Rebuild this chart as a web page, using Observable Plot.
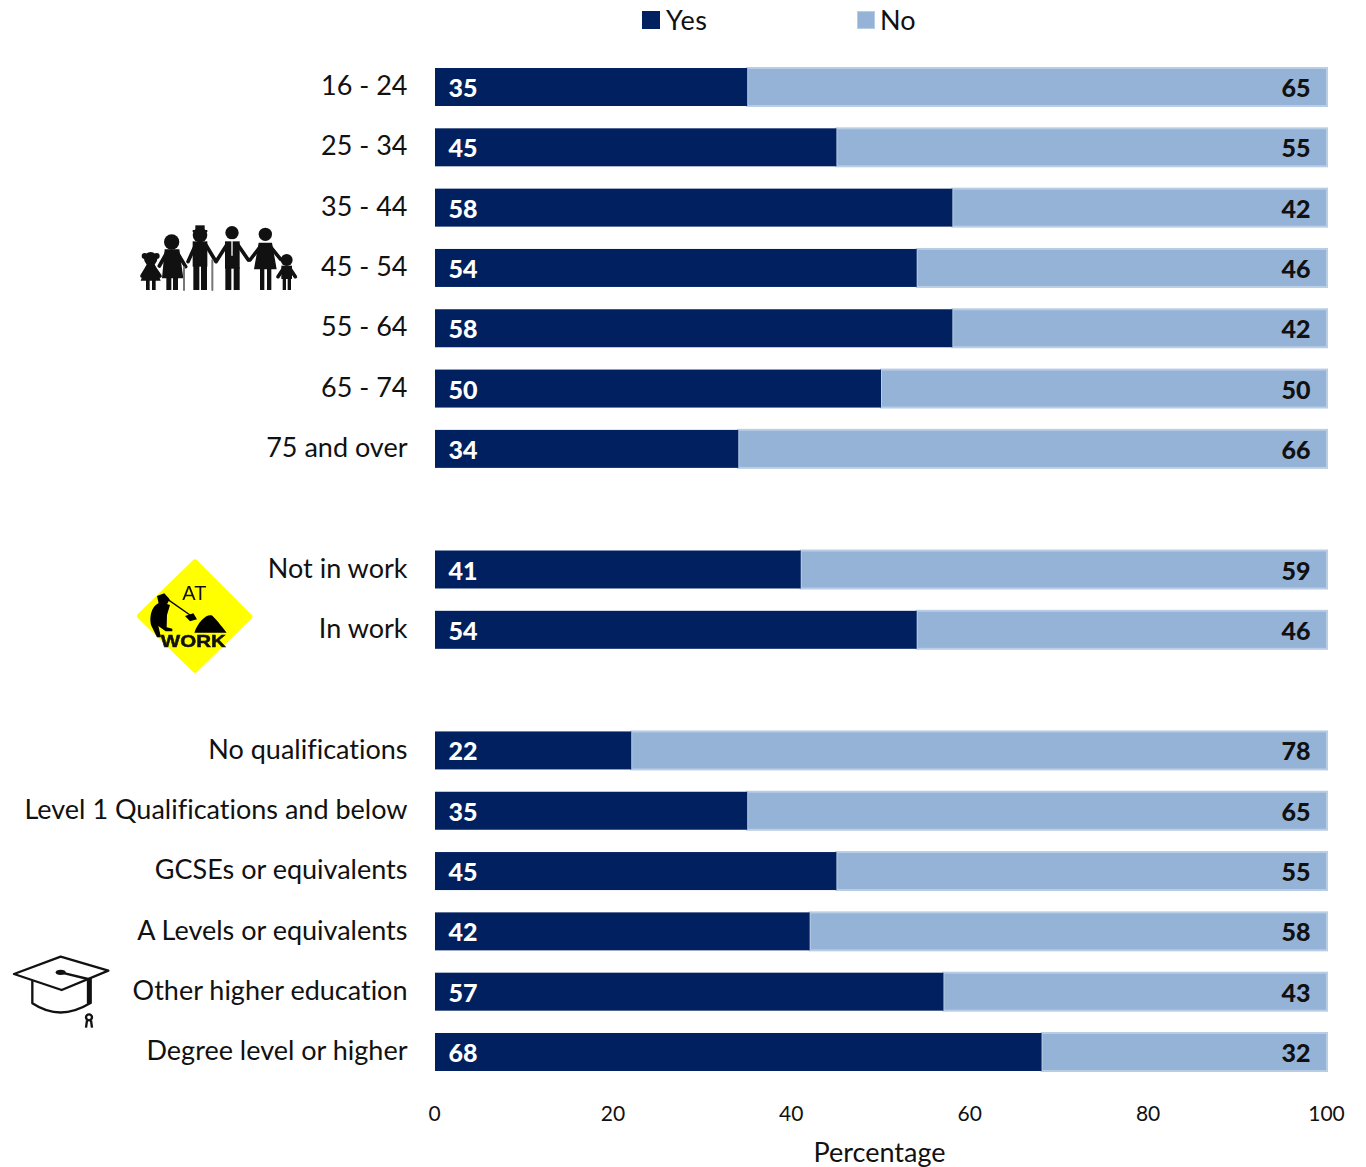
<!DOCTYPE html>
<html>
<head>
<meta charset="utf-8">
<script src="https://cdn.jsdelivr.net/npm/d3@7"></script>
<script src="https://cdn.jsdelivr.net/npm/@observablehq/plot@0.6"></script>
<style>
  html, body { margin: 0; padding: 0; background: #fff; }
  body { position: relative; width: 1366px; height: 1167px; overflow: hidden; font-family: Lato, "Open Sans", sans-serif; color: #111; font-variant-ligatures: none; }
  #legend { position: relative; height: 40px; font-size: 27px; }
  #legend span { position: absolute; top: 3px; line-height: 34px; }
  #legend i { position: absolute; top: 11px; width: 18px; height: 18px; box-sizing: border-box; }
  #chart svg text { font-variant-ligatures: none; }
  .icon { position: absolute; display: block; }
</style>
</head>
<body>
<div id="legend">
  <i style="left:642px;background:#002060"></i><span style="left:666px;letter-spacing:.6px">Yes</span>
  <i style="left:857px;background:#95b3d7;border:1px solid #b9cde5"></i><span style="left:880px">No</span>
</div>
<div id="chart"></div>

<!-- Family group beside the age bands -->
<svg class="icon" style="left:120px;top:180px;filter:blur(.7px)" width="200" height="120" viewBox="0 0 600 360">
  <g fill="#111" stroke="#111" stroke-linecap="round">
    <g stroke-width="0">
      <circle cx="92" cy="236" r="20"/><circle cx="74" cy="228" r="9"/><circle cx="110" cy="228" r="9"/>
      <path d="M80 252h24l18 50h-60z"/><rect x="78" y="298" width="11" height="32"/><rect x="96" y="298" width="11" height="32"/>
      <circle cx="155" cy="186" r="23"/>
      <path d="M134 208h44l12 87h-64z"/><rect x="139" y="293" width="15" height="37"/><rect x="159" y="293" width="15" height="37"/>
      <circle cx="240" cy="165" r="22"/><rect x="226" y="136" width="28" height="22"/><rect x="218" y="150" width="44" height="6"/>
      <rect x="218" y="184" width="44" height="76"/><rect x="220" y="255" width="18" height="75"/><rect x="243" y="255" width="18" height="75"/>
      <circle cx="336" cy="158" r="20"/>
      <rect x="315" y="184" width="44" height="82"/><rect x="316" y="262" width="18" height="68"/><rect x="341" y="262" width="18" height="68"/>
      <circle cx="436" cy="163" r="20"/>
      <path d="M416 188h40l14 80h-68z"/><rect x="420" y="265" width="13" height="65"/><rect x="441" y="265" width="13" height="65"/>
      <circle cx="500" cy="240" r="18"/>
      <rect x="484" y="257" width="32" height="40"/><rect x="488" y="295" width="10" height="35"/><rect x="503" y="295" width="10" height="35"/>
    </g>
    <g stroke-width="11" fill="none">
      <path d="M82 262L66 288M102 262L120 288"/>
      <path d="M142 215L118 258M170 215L197 260"/>
      <path d="M228 192L204 245M256 192L285 240"/>
      <path d="M322 192L288 245M352 192L385 240"/>
      <path d="M424 196L390 240M448 196L482 238"/>
      <path d="M490 266L474 290M510 266L526 290"/>
    </g>
    <path d="M192 262V330M277 240V330" stroke="#777" stroke-width="6" fill="none"/>
    <path d="M336 180V226" stroke="#fff" stroke-width="4" fill="none"/>
  </g>
</svg>

<!-- Roadworks sign beside the employment rows -->
<svg class="icon" style="left:125px;top:550px;filter:blur(.3px)" width="140" height="130" viewBox="0 0 420 390">
  <path d="M210 36L374 200L210 360L44 198Z" fill="#ffff00" stroke="#ffff00" stroke-width="16" stroke-linejoin="round"/>
  <text x="208" y="150" text-anchor="middle" font-family="Liberation Sans" font-size="60" fill="#111">AT</text>
  <text x="205" y="292" text-anchor="middle" font-family="Liberation Sans" font-weight="700" font-size="50" textLength="195" lengthAdjust="spacingAndGlyphs" fill="#111" stroke="#111" stroke-width="1.5">WORK</text>
  <path d="M208 248C220 215 245 190 262 197C280 215 295 235 305 248Z" fill="#000"/>
  <path d="M128 148L195 195" stroke="#000" stroke-width="4"/>
  <path d="M180 198L205 190L216 208L195 214Z" fill="#000"/>
  <path d="M96 138L118 130L134 148L122 170L102 165Z" fill="#000"/>
  <path d="M100 160C80 170 72 200 78 225L96 262L108 262L100 228L122 244L142 244L142 236L125 232L126 195L135 165L118 160Z" fill="#000"/>
</svg>

<!-- Mortarboard beside the qualification rows -->
<svg class="icon" style="left:0;top:945px" width="120" height="90" viewBox="0 0 360 270">
  <g fill="none" stroke="#111" stroke-width="7" stroke-linejoin="round">
    <path d="M182 35L325 77L185 135L42 87Z"/>
    <path d="M97 108V175Q180 230 270 175V100"/>
    <path d="M182 82L264 102V176M272 100V176"/>
    <circle cx="267" cy="217" r="9"/>
    <path d="M261 226L258 248M273 226L276 248"/>
  </g>
  <ellipse cx="182" cy="82" rx="15" ry="8" fill="#111"/>
</svg>

<script>
const ageGroups = ["16 - 24", "25 - 34", "35 - 44", "45 - 54", "55 - 64", "65 - 74", "75 and over"];
const ageYes = [35, 45, 58, 54, 58, 50, 34];
const ageNo = [65, 55, 42, 46, 42, 50, 66];

const workGroups = ["Not in work", "In work"];
const workYes = [41, 54];
const workNo = [59, 46];

const qualGroups = ["No qualifications", "Level 1 Qualifications and below", "GCSEs or equivalents", "A Levels or equivalents", "Other higher education", "Degree level or higher"];
const qualYes = [22, 35, 45, 42, 57, 68];
const qualNo = [78, 65, 55, 58, 43, 32];

const xTicks = [0, 20, 40, 60, 80, 100];
const xTitle = ["Percentage"];

// Blank band entries keep the gaps between the three groups of rows.
const gapA = " ", gapB = "  ";
const rowOrder = [...ageGroups, gapA, ...workGroups, gapB, ...qualGroups];

const categories = [...ageGroups, ...workGroups, ...qualGroups];
const yesValues = [...ageYes, ...workYes, ...qualYes];
const noValues = [...ageNo, ...workNo, ...qualNo];
const rows = categories.map((category, i) => ({category, yes: yesValues[i], no: noValues[i]}));

const chart = Plot.plot({
  width: 1366,
  height: 1127,
  marginLeft: 435,
  marginRight: 39,
  marginTop: 5.7,
  marginBottom: 73.7,
  style: {fontFamily: "Lato, 'Open Sans', sans-serif", background: "#fff", color: "#111", overflow: "visible"},
  x: {domain: [0, 100]},
  y: {domain: rowOrder, padding: 0.37, round: false},
  marks: [
    Plot.barX(rows, {x1: "yes", x2: d => d.yes + d.no, y: "category", fill: "#95b3d7", stroke: "#b9cde5", strokeWidth: 2}),
    Plot.barX(rows, {x1: 0, x2: "yes", y: "category", fill: "#002060"}),
    Plot.text(rows, {x: 0, y: "category", text: "yes", dx: 13, dy: 1.5, textAnchor: "start", fill: "#fff", fontWeight: 900, fontSize: 25}),
    Plot.text(rows, {x: 100, y: "category", text: "no", dx: -17, dy: 1.5, textAnchor: "end", fill: "#111", fontWeight: 900, fontSize: 25}),
    Plot.axisY({tickSize: 0, tickPadding: 28, label: null, fontSize: 27, fill: "#111", dy: -1}),
    Plot.axisX({ticks: xTicks, tickSize: 0, tickPadding: 12, fontSize: 21, fill: "#111", label: null, dx: -1}),
    Plot.text(xTitle, {frameAnchor: "bottom", lineAnchor: "middle", dy: 60, dx: -2, fontSize: 27, fill: "#111", style: {letterSpacing: "0.6px"}})
  ]
});
document.getElementById("chart").appendChild(chart);
</script>
</body>
</html>
